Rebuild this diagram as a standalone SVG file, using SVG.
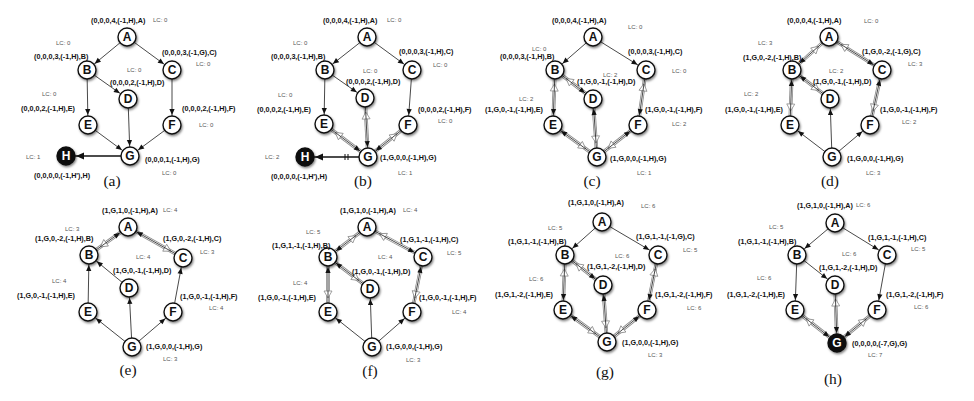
<svg xmlns="http://www.w3.org/2000/svg" width="974" height="401" viewBox="0 0 974 401">
<defs>
<style>
.e{stroke:#1a1a1a;stroke-width:0.8;fill:none;marker-end:url(#ah)}
.th{stroke:#111;stroke-width:1.6;fill:none;marker-end:url(#ahb)}
.hs{stroke:#8a8a8a;stroke-width:3.6;fill:none}
.hw{stroke:#fff;stroke-width:2;fill:none;marker-end:url(#hh)}
.nd circle{fill:#fff;stroke:#111;stroke-width:1.4;filter:url(#sh)}
.nd text{font-family:"Liberation Sans",Arial,sans-serif;font-weight:bold;font-size:12px;text-anchor:middle;fill:#111}
.blk circle{fill:#111}
.blk text{fill:#fff}
.t{font-family:"Liberation Sans",Arial,sans-serif;font-weight:bold;font-size:7.2px;fill:#111}
.lc{font-family:"Liberation Sans",Arial,sans-serif;font-size:6px;fill:#555}
.cap{font-family:"Liberation Serif","Times New Roman",serif;font-size:15.5px;fill:#111;text-anchor:middle}
.tk{stroke:#111;stroke-width:1}
</style>
<marker id="ah" markerUnits="userSpaceOnUse" viewBox="-7 -4 8 8" refX="10" refY="0" markerWidth="8" markerHeight="8" orient="auto" overflow="visible"><path d="M0,0 L-6,-2.6 L-6,2.6 Z" fill="#111"/></marker>
<marker id="ahb" markerUnits="userSpaceOnUse" viewBox="-9 -5 10 10" refX="10" refY="0" markerWidth="10" markerHeight="10" orient="auto" overflow="visible"><path d="M0,0 L-8,-3.6 L-8,3.6 Z" fill="#111"/></marker>
<marker id="hh" markerUnits="userSpaceOnUse" viewBox="-8 -5 9 10" refX="14" refY="0" markerWidth="9" markerHeight="10" orient="auto" overflow="visible"><path d="M0,0 L-7,-4 L-7,4 Z" fill="#fff" stroke="#8a8a8a" stroke-width="0.8" stroke-linejoin="round"/></marker>
<filter id="sh" x="-50%" y="-50%" width="200%" height="200%"><feDropShadow dx="1" dy="1.5" stdDeviation="1.2" flood-color="#000" flood-opacity="0.5"/></filter>
</defs>
<rect width="974" height="401" fill="#fff"/>

<!-- panel a -->
<g id="a-edges">
<path class="e" d="M127 37L87 70"/><path class="e" d="M127 37L172 70"/><path class="e" d="M87 70L128 99"/><path class="e" d="M87 70L88 125"/><path class="e" d="M172 70L172 125"/><path class="e" d="M128 99L130 156"/><path class="e" d="M88 125L130 156"/><path class="e" d="M172 125L130 156"/><path class="th" d="M130 156L66 156"/>
</g>
<g id="a-A" class="nd"><circle cx="127" cy="37" r="9"/><text x="127" y="41.3">A</text></g>
<g id="a-B" class="nd"><circle cx="87" cy="70" r="9"/><text x="87" y="74.3">B</text></g>
<g id="a-C" class="nd"><circle cx="172" cy="70" r="9"/><text x="172" y="74.3">C</text></g>
<g id="a-D" class="nd"><circle cx="128" cy="99" r="9"/><text x="128" y="103.3">D</text></g>
<g id="a-E" class="nd"><circle cx="88" cy="125" r="9"/><text x="88" y="129.3">E</text></g>
<g id="a-F" class="nd"><circle cx="172" cy="125" r="9"/><text x="172" y="129.3">F</text></g>
<g id="a-G" class="nd"><circle cx="130" cy="156" r="9"/><text x="130" y="160.3">G</text></g>
<g id="a-H" class="nd blk"><circle cx="66" cy="156" r="9"/><text x="66" y="160.3">H</text></g>
<g id="a-labels">
<text class="t" x="91" y="23">(0,0,0,4,(-1,H),A)</text><text class="lc" x="153" y="22">LC: 0</text>
<text class="lc" x="56" y="45">LC: 0</text><text class="t" x="34" y="59">(0,0,0,3,(-1,H),B)</text>
<text class="t" x="162" y="54.5">(0,0,0,3,(-1,G),C)</text><text class="lc" x="196" y="66">LC: 0</text>
<text class="lc" x="127" y="72">LC: 0</text><text class="t" x="110" y="84.5">(0,0,0,2,(-1,H),D)</text>
<text class="lc" x="42" y="96">LC: 0</text><text class="t" x="21" y="111">(0,0,0,2,(-1,H),E)</text>
<text class="t" x="182" y="111">(0,0,0,2,(-1,H),F)</text><text class="lc" x="199" y="127">LC: 0</text>
<text class="t" x="145" y="161.5">(0,0,0,1,(-1,H),G)</text><text class="lc" x="162" y="175">LC: 0</text>
<text class="lc" x="26" y="159">LC: 1</text><text class="t" x="34" y="178">(0,0,0,0,(-1,H'),H)</text>
<text class="cap" x="112" y="186">(a)</text>
</g>

<!-- panel b -->
<g id="b-edges">
<path class="hs" d="M368 157L324 124"/><path class="hw" d="M368 157L324 124"/>
<path class="hs" d="M368 157L365 98"/><path class="hw" d="M368 157L365 98"/>
<path class="hs" d="M368 157L408 125"/><path class="hw" d="M368 157L408 125"/>
<path class="e" d="M367 37L325 70"/><path class="e" d="M367 37L412 70"/><path class="e" d="M325 70L365 98"/><path class="e" d="M325 70L324 124"/><path class="e" d="M412 70L408 125"/><path class="e" d="M365 98L368 157"/><path class="e" d="M324 124L368 157"/><path class="e" d="M408 125L368 157"/><path class="th" d="M368 157L305 157"/>
<line class="tk" x1="345" y1="154" x2="345" y2="160"/><line class="tk" x1="348" y1="154" x2="348" y2="160"/>
</g>
<g id="b-A" class="nd"><circle cx="367" cy="37" r="9"/><text x="367" y="41.3">A</text></g>
<g id="b-B" class="nd"><circle cx="325" cy="70" r="9"/><text x="325" y="74.3">B</text></g>
<g id="b-C" class="nd"><circle cx="412" cy="70" r="9"/><text x="412" y="74.3">C</text></g>
<g id="b-D" class="nd"><circle cx="365" cy="98" r="9"/><text x="365" y="102.3">D</text></g>
<g id="b-E" class="nd"><circle cx="324" cy="124" r="9"/><text x="324" y="128.3">E</text></g>
<g id="b-F" class="nd"><circle cx="408" cy="125" r="9"/><text x="408" y="129.3">F</text></g>
<g id="b-G" class="nd"><circle cx="368" cy="157" r="9"/><text x="368" y="161.3">G</text></g>
<g id="b-H" class="nd blk"><circle cx="305" cy="157" r="9"/><text x="305" y="161.3">H</text></g>
<g id="b-labels">
<text class="t" x="323" y="23">(0,0,0,4,(-1,H),A)</text><text class="lc" x="387" y="22">LC: 0</text>
<text class="lc" x="293" y="45">LC: 0</text><text class="t" x="271" y="59">(0,0,0,3,(-1,H),B)</text>
<text class="t" x="399" y="54">(0,0,0,3,(-1,H),C)</text><text class="lc" x="433" y="66.5">LC: 0</text>
<text class="lc" x="363" y="72.5">LC: 0</text><text class="t" x="346" y="83.5">(0,0,0,2,(-1,H),D)</text>
<text class="lc" x="278" y="96.5">LC: 0</text><text class="t" x="257" y="111.5">(0,0,0,2,(-1,H),E)</text>
<text class="t" x="418" y="111.5">(0,0,0,2,(-1,H),F)</text><text class="lc" x="438" y="122.7">LC: 0</text>
<text class="t" x="380" y="159.7">(1,G,0,0,(-1,H),G)</text><text class="lc" x="398" y="174.7">LC: 1</text>
<text class="lc" x="265" y="158.7">LC: 2</text><text class="t" x="271" y="178.5">(0,0,0,0,(-1,H'),H)</text>
<text class="cap" x="363" y="186">(b)</text>
</g>

<!-- panel c -->
<g id="c-edges">
<path class="hs" d="M593 99L555 70"/><path class="hw" d="M593 99L555 70"/>
<path class="hs" d="M553 125L555 70"/><path class="hw" d="M553 125L555 70"/>
<path class="hs" d="M638 125L646 70"/><path class="hw" d="M638 125L646 70"/>
<path class="hs" d="M553 125L597 157"/><path class="hw" d="M553 125L597 157"/>
<path class="hs" d="M593 99L597 157"/><path class="hw" d="M593 99L597 157"/>
<path class="hs" d="M638 125L597 157"/><path class="hw" d="M638 125L597 157"/>
<path class="e" d="M593 37L555 70"/><path class="e" d="M593 37L646 70"/><path class="e" d="M555 70L593 99"/><path class="e" d="M555 70L553 125"/><path class="e" d="M646 70L638 125"/><path class="e" d="M597 157L553 125"/><path class="e" d="M597 157L593 99"/><path class="e" d="M597 157L638 125"/>
</g>
<g id="c-A" class="nd"><circle cx="593" cy="37" r="9"/><text x="593" y="41.3">A</text></g>
<g id="c-B" class="nd"><circle cx="555" cy="70" r="9"/><text x="555" y="74.3">B</text></g>
<g id="c-C" class="nd"><circle cx="646" cy="70" r="9"/><text x="646" y="74.3">C</text></g>
<g id="c-D" class="nd"><circle cx="593" cy="99" r="9"/><text x="593" y="103.3">D</text></g>
<g id="c-E" class="nd"><circle cx="553" cy="125" r="9"/><text x="553" y="129.3">E</text></g>
<g id="c-F" class="nd"><circle cx="638" cy="125" r="9"/><text x="638" y="129.3">F</text></g>
<g id="c-G" class="nd"><circle cx="597" cy="157" r="9"/><text x="597" y="161.3">G</text></g>
<g id="c-labels">
<text class="t" x="552" y="23">(0,0,0,4,(-1,H),A)</text><text class="lc" x="628" y="29.3">LC: 0</text>
<text class="lc" x="532" y="51.3">LC: 0</text><text class="t" x="500" y="58.5">(0,0,0,3,(-1,H),B)</text>
<text class="t" x="628" y="54">(0,0,0,3,(-1,H),C)</text><text class="lc" x="672" y="72.7">LC: 0</text>
<text class="lc" x="603" y="76.5">LC: 2</text><text class="t" x="577" y="83.8">(1,G,0,-1,(-1,H),D)</text>
<text class="lc" x="519" y="101.3">LC: 2</text><text class="t" x="485" y="111.5">(1,G,0,-1,(-1,H),E)</text>
<text class="t" x="645" y="111.5">(1,G,0,-1,(-1,H),F)</text><text class="lc" x="672" y="126">LC: 2</text>
<text class="t" x="610" y="160.7">(1,G,0,0,(-1,H),G)</text><text class="lc" x="637" y="174.7">LC: 1</text>
<text class="cap" x="592" y="186">(c)</text>
</g>

<!-- panel d -->
<g id="d-edges">
<path class="hs" d="M792 70L829 37"/><path class="hw" d="M792 70L829 37"/>
<path class="hs" d="M882 70L829 37"/><path class="hw" d="M882 70L829 37"/>
<path class="hs" d="M792 70L830 99"/><path class="hw" d="M792 70L830 99"/>
<path class="hs" d="M792 70L790 125"/><path class="hw" d="M792 70L790 125"/>
<path class="hs" d="M882 70L870 125"/><path class="hw" d="M882 70L870 125"/>
<path class="e" d="M829 37L792 70"/><path class="e" d="M829 37L882 70"/><path class="e" d="M830 99L792 70"/><path class="e" d="M790 125L792 70"/><path class="e" d="M870 125L882 70"/><path class="e" d="M832 157L790 125"/><path class="e" d="M832 157L830 99"/><path class="e" d="M832 157L870 125"/>
</g>
<g id="d-A" class="nd"><circle cx="829" cy="37" r="9"/><text x="829" y="41.3">A</text></g>
<g id="d-B" class="nd"><circle cx="792" cy="70" r="9"/><text x="792" y="74.3">B</text></g>
<g id="d-C" class="nd"><circle cx="882" cy="70" r="9"/><text x="882" y="74.3">C</text></g>
<g id="d-D" class="nd"><circle cx="830" cy="99" r="9"/><text x="830" y="103.3">D</text></g>
<g id="d-E" class="nd"><circle cx="790" cy="125" r="9"/><text x="790" y="129.3">E</text></g>
<g id="d-F" class="nd"><circle cx="870" cy="125" r="9"/><text x="870" y="129.3">F</text></g>
<g id="d-G" class="nd"><circle cx="832" cy="157" r="9"/><text x="832" y="161.3">G</text></g>
<g id="d-labels">
<text class="t" x="787" y="23">(0,0,0,4,(-1,H),A)</text><text class="lc" x="864" y="22.7">LC: 0</text>
<text class="lc" x="758" y="45.3">LC: 3</text><text class="t" x="743" y="59.7">(1,G,0,-2,(-1,H),B)</text>
<text class="t" x="862" y="54">(1,G,0,-2,(-1,G),C)</text><text class="lc" x="908" y="66.3">LC: 3</text>
<text class="lc" x="829" y="72.7">LC: 2</text><text class="t" x="813" y="83.5">(1,G,0,-1,(-1,H),D)</text>
<text class="lc" x="744" y="96.3">LC: 2</text><text class="t" x="725" y="111.5">(1,G,0,-1,(-1,H),E)</text>
<text class="t" x="880" y="111.5">(1,G,0,-1,(-1,H),F)</text><text class="lc" x="902" y="124.3">LC: 2</text>
<text class="t" x="847" y="160.7">(1,G,0,0,(-1,H),G)</text><text class="lc" x="866" y="174.7">LC: 3</text>
<text class="cap" x="830" y="186">(d)</text>
</g>

<!-- panel e -->
<g id="e-edges">
<path class="hs" d="M128 227L89 255"/><path class="hw" d="M128 227L89 255"/>
<path class="hs" d="M128 227L183 258"/><path class="hw" d="M128 227L183 258"/>
<path class="e" d="M89 255L128 227"/><path class="e" d="M183 258L128 227"/><path class="e" d="M129 288L89 255"/><path class="e" d="M88 312L89 255"/><path class="e" d="M173 312L183 258"/><path class="e" d="M132 347L88 312"/><path class="e" d="M132 347L129 288"/><path class="e" d="M132 347L173 312"/>
</g>
<g id="e-A" class="nd"><circle cx="128" cy="227" r="9"/><text x="128" y="231.3">A</text></g>
<g id="e-B" class="nd"><circle cx="89" cy="255" r="9"/><text x="89" y="259.3">B</text></g>
<g id="e-C" class="nd"><circle cx="183" cy="258" r="9"/><text x="183" y="262.3">C</text></g>
<g id="e-D" class="nd"><circle cx="129" cy="288" r="9"/><text x="129" y="292.3">D</text></g>
<g id="e-E" class="nd"><circle cx="88" cy="312" r="9"/><text x="88" y="316.3">E</text></g>
<g id="e-F" class="nd"><circle cx="173" cy="312" r="9"/><text x="173" y="316.3">F</text></g>
<g id="e-G" class="nd"><circle cx="132" cy="347" r="9"/><text x="132" y="351.3">G</text></g>
<g id="e-labels">
<text class="t" x="102" y="212.5">(1,G,1,0,(-1,H),A)</text><text class="lc" x="163" y="212">LC: 4</text>
<text class="lc" x="65" y="231.3">LC: 3</text><text class="t" x="35" y="240.7">(1,G,0,-2,(-1,H),B)</text>
<text class="t" x="163" y="240.7">(1,G,0,-2,(-1,H),C)</text><text class="lc" x="200" y="253.7">LC: 3</text>
<text class="lc" x="136" y="258.7">LC: 4</text><text class="t" x="113" y="272.5">(1,G,0,-1,(-1,H),D)</text>
<text class="lc" x="52" y="283">LC: 4</text><text class="t" x="17" y="297.5">(1,G,0,-1,(-1,H),E)</text>
<text class="t" x="180" y="299">(1,G,0,-1,(-1,H),F)</text><text class="lc" x="209" y="310.3">LC: 4</text>
<text class="t" x="146" y="349">(1,G,0,0,(-1,H),G)</text><text class="lc" x="163" y="361">LC: 3</text>
<text class="cap" x="128" y="374.5">(e)</text>
</g>

<!-- panel f -->
<g id="f-edges">
<path class="hs" d="M328 257L367 227"/><path class="hw" d="M328 257L367 227"/>
<path class="hs" d="M423 257L367 227"/><path class="hw" d="M423 257L367 227"/>
<path class="hs" d="M328 257L370 289"/><path class="hw" d="M328 257L370 289"/>
<path class="hs" d="M328 257L328 312"/><path class="hw" d="M328 257L328 312"/>
<path class="hs" d="M423 257L412 312"/><path class="hw" d="M423 257L412 312"/>
<path class="e" d="M367 227L328 257"/><path class="e" d="M367 227L423 257"/><path class="e" d="M370 289L328 257"/><path class="e" d="M328 312L328 257"/><path class="e" d="M412 312L423 257"/><path class="e" d="M372 347L328 312"/><path class="e" d="M372 347L370 289"/><path class="e" d="M372 347L412 312"/>
</g>
<g id="f-A" class="nd"><circle cx="367" cy="227" r="9"/><text x="367" y="231.3">A</text></g>
<g id="f-B" class="nd"><circle cx="328" cy="257" r="9"/><text x="328" y="261.3">B</text></g>
<g id="f-C" class="nd"><circle cx="423" cy="257" r="9"/><text x="423" y="261.3">C</text></g>
<g id="f-D" class="nd"><circle cx="370" cy="289" r="9"/><text x="370" y="293.3">D</text></g>
<g id="f-E" class="nd"><circle cx="328" cy="312" r="9"/><text x="328" y="316.3">E</text></g>
<g id="f-F" class="nd"><circle cx="412" cy="312" r="9"/><text x="412" y="316.3">F</text></g>
<g id="f-G" class="nd"><circle cx="372" cy="347" r="9"/><text x="372" y="351.3">G</text></g>
<g id="f-labels">
<text class="t" x="340" y="212.5">(1,G,1,0,(-1,H),A)</text><text class="lc" x="403" y="212">LC: 4</text>
<text class="lc" x="306" y="233.7">LC: 5</text><text class="t" x="272" y="247.5">(1,G,1,-1,(-1,H),B)</text>
<text class="t" x="400" y="241.5">(1,G,1,-1,(-1,H),C)</text><text class="lc" x="447" y="255.3">LC: 5</text>
<text class="lc" x="378" y="258.7">LC: 4</text><text class="t" x="352" y="273.5">(1,G,0,-1,(-1,H),D)</text>
<text class="lc" x="293" y="285.3">LC: 4</text><text class="t" x="258" y="300">(1,G,0,-1,(-1,H),E)</text>
<text class="t" x="419" y="300">(1,G,0,-1,(-1,H),F)</text><text class="lc" x="452" y="313.7">LC: 4</text>
<text class="t" x="386" y="349">(1,G,0,0,(-1,H),G)</text><text class="lc" x="406" y="362">LC: 3</text>
<text class="cap" x="370" y="376">(f)</text>
</g>

<!-- panel g -->
<g id="g-edges">
<path class="hs" d="M603 285L565 255"/><path class="hw" d="M603 285L565 255"/>
<path class="hs" d="M563 310L565 255"/><path class="hw" d="M563 310L565 255"/>
<path class="hs" d="M647 310L658 255"/><path class="hw" d="M647 310L658 255"/>
<path class="hs" d="M563 310L607 342"/><path class="hw" d="M563 310L607 342"/>
<path class="hs" d="M603 285L607 342"/><path class="hw" d="M603 285L607 342"/>
<path class="hs" d="M647 310L607 342"/><path class="hw" d="M647 310L607 342"/>
<path class="e" d="M602 222L565 255"/><path class="e" d="M602 222L658 255"/><path class="e" d="M565 255L603 285"/><path class="e" d="M565 255L563 310"/><path class="e" d="M658 255L647 310"/><path class="e" d="M607 342L563 310"/><path class="e" d="M607 342L603 285"/><path class="e" d="M607 342L647 310"/>
</g>
<g id="g-A" class="nd"><circle cx="602" cy="222" r="9"/><text x="602" y="226.3">A</text></g>
<g id="g-B" class="nd"><circle cx="565" cy="255" r="9"/><text x="565" y="259.3">B</text></g>
<g id="g-C" class="nd"><circle cx="658" cy="255" r="9"/><text x="658" y="259.3">C</text></g>
<g id="g-D" class="nd"><circle cx="603" cy="285" r="9"/><text x="603" y="289.3">D</text></g>
<g id="g-E" class="nd"><circle cx="563" cy="310" r="9"/><text x="563" y="314.3">E</text></g>
<g id="g-F" class="nd"><circle cx="647" cy="310" r="9"/><text x="647" y="314.3">F</text></g>
<g id="g-G" class="nd"><circle cx="607" cy="342" r="9"/><text x="607" y="346.3">G</text></g>
<g id="g-labels">
<text class="t" x="568" y="204.7">(1,G,1,0,(-1,H),A)</text><text class="lc" x="641" y="207.7">LC: 6</text>
<text class="lc" x="548" y="230.3">LC: 5</text><text class="t" x="508" y="244">(1,G,1,-1,(-1,H),B)</text>
<text class="t" x="636" y="239">(1,G,1,-1,(-1,G),C)</text><text class="lc" x="683" y="252">LC: 5</text>
<text class="lc" x="615" y="257.7">LC: 6</text><text class="t" x="587" y="269">(1,G,1,-2,(-1,H),D)</text>
<text class="lc" x="529" y="281.3">LC: 6</text><text class="t" x="495" y="296.7">(1,G,1,-2,(-1,H),E)</text>
<text class="t" x="655" y="296.7">(1,G,1,-2,(-1,H),F)</text><text class="lc" x="687" y="309.7">LC: 6</text>
<text class="t" x="622" y="344.7">(1,G,0,0,(-1,H),G)</text><text class="lc" x="648" y="357">LC: 3</text>
<text class="cap" x="605" y="377">(g)</text>
</g>

<!-- panel h -->
<g id="h-edges">
<path class="hs" d="M837 343L795 310"/><path class="hw" d="M837 343L795 310"/>
<path class="hs" d="M837 343L835 285"/><path class="hw" d="M837 343L835 285"/>
<path class="hs" d="M837 343L877 310"/><path class="hw" d="M837 343L877 310"/>
<path class="e" d="M835 223L797 255"/><path class="e" d="M835 223L887 255"/><path class="e" d="M797 255L835 285"/><path class="e" d="M797 255L795 310"/><path class="e" d="M887 255L877 310"/><path class="e" d="M795 310L837 343"/><path class="e" d="M835 285L837 343"/><path class="e" d="M877 310L837 343"/>
</g>
<g id="h-A" class="nd"><circle cx="835" cy="223" r="9"/><text x="835" y="227.3">A</text></g>
<g id="h-B" class="nd"><circle cx="797" cy="255" r="9"/><text x="797" y="259.3">B</text></g>
<g id="h-C" class="nd"><circle cx="887" cy="255" r="9"/><text x="887" y="259.3">C</text></g>
<g id="h-D" class="nd"><circle cx="835" cy="285" r="9"/><text x="835" y="289.3">D</text></g>
<g id="h-E" class="nd"><circle cx="795" cy="310" r="9"/><text x="795" y="314.3">E</text></g>
<g id="h-F" class="nd"><circle cx="877" cy="310" r="9"/><text x="877" y="314.3">F</text></g>
<g id="h-G" class="nd blk"><circle cx="837" cy="343" r="9"/><text x="837" y="347.3">G</text></g>
<g id="h-labels">
<text class="t" x="797" y="207.5">(1,G,1,0,(-1,H),A)</text><text class="lc" x="856" y="207">LC: 6</text>
<text class="lc" x="769" y="229.3">LC: 5</text><text class="t" x="738" y="244">(1,G,1,-1,(-1,H),B)</text>
<text class="t" x="868" y="239.7">(1,G,1,-1,(-1,H),C)</text><text class="lc" x="911" y="251">LC: 5</text>
<text class="lc" x="842" y="256">LC: 6</text><text class="t" x="819" y="269.7">(1,G,1,-2,(-1,H),D)</text>
<text class="lc" x="757" y="279.7">LC: 6</text><text class="t" x="727" y="296.7">(1,G,1,-2,(-1,H),E)</text>
<text class="t" x="886" y="296.7">(1,G,1,-2,(-1,H),F)</text><text class="lc" x="914" y="308.7">LC: 6</text>
<text class="t" x="852" y="345.7">(0,0,0,0,(-7,G),G)</text><text class="lc" x="868" y="357">LC: 7</text>
<text class="cap" x="833" y="383.5">(h)</text>
</g>
</svg>
